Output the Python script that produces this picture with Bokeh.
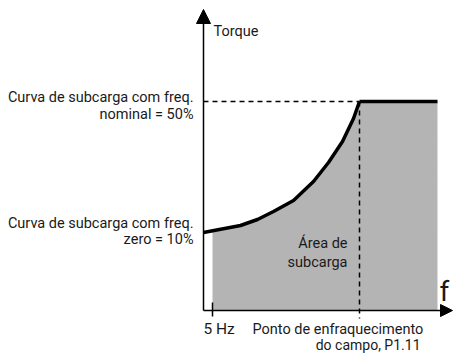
from bokeh.plotting import figure
from bokeh.models import Range1d, Arrow, NormalHead, Label
from bokeh.embed import file_html
from bokeh.resources import INLINE

# Schematic units: x = distance along frequency axis, y = height above frequency axis
curve_x = [0, 37, 54, 70, 90, 110, 125, 139, 150, 156]
curve_y = [78, 85, 91, 99, 110, 129, 148, 169, 192, 209]
flat_x = [156, 234]
flat_y = [209, 209]
area_x = [9, 37, 54, 70, 90, 110, 125, 139, 150, 156, 234]
area_y = [80, 85, 91, 99, 110, 129, 148, 169, 192, 209, 209]
f5hz = 9
field_weak = 156
nominal_level = 209
zero_level = 78

W, H = 453, 354
p = figure(width=W, height=H, output_backend="svg", toolbar_location=None,
           x_range=Range1d(-203, -203 + W), y_range=Range1d(310 - H, 310),
           min_border=0, outline_line_color=None)
p.axis.visible = False
p.grid.visible = False

# gray area
p.varea(x=area_x, y1=[0] * len(area_x), y2=area_y, fill_color="#b4b4b4")

# dashed guides
p.line([0, field_weak], [nominal_level, nominal_level], line_color="black",
       line_width=1.5, line_dash="5 4")
p.line([field_weak, field_weak], [nominal_level, -8], line_color="black",
       line_width=1.5, line_dash="5 4")

# curve
p.line(curve_x, curve_y, line_color="black", line_width=3.5, line_join="round")
p.line(flat_x, flat_y, line_color="black", line_width=3.5)

# axes with arrows
p.add_layout(Arrow(x_start=0, y_start=0, x_end=0, y_end=301, line_width=1.5,
                   end=NormalHead(size=14, fill_color="black", line_color="black")))
p.add_layout(Arrow(x_start=0, y_start=0, x_end=249, y_end=0, line_width=1.5,
                   end=NormalHead(size=12, fill_color="black", line_color="black")))
# 5 Hz tick
p.line([f5hz, f5hz], [8, -6], line_color="black", line_width=1.5)

font = "Roboto"
def lab(x, y, t, size="14.5px", align="left", baseline="middle"):
    p.add_layout(Label(x=x, y=y, text=t, text_font=font, text_font_size=size,
                       text_align=align, text_baseline=baseline, text_color="#1a1a1a"))

lab(10, 279, "Torque")
lab(-10, 213, "Curva de subcarga com freq.", align="right")
lab(-10, 196, "nominal = 50%", align="right")
lab(-10, 87, "Curva de subcarga com freq.", align="right")
lab(-10, 71, "zero = 10%", align="right")
lab(144, 67, "Área de", align="right")
lab(144, 48, "subcarga", align="right")
lab(236, 19, "f", size="28px")
lab(0, -18, "5 Hz", size="15.5px")
lab(49, -19, "Ponto de enfraquecimento")
lab(217, -34, "do campo, P1.11", align="right", size="14px")

open("out.html", "w").write(file_html(p, INLINE))
